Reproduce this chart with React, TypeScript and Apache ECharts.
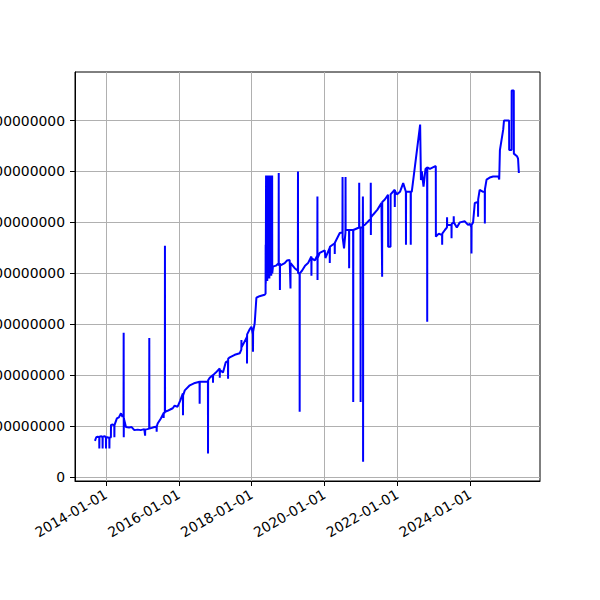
import React, { useEffect, useRef } from "react";
import * as echarts from "echarts";

const dates: string[] = [
  "2013-09-12", "2013-09-25", "2013-10-10", "2013-10-25", "2013-10-26", "2013-10-27", "2013-11-15", "2013-11-27", "2013-11-28", "2013-11-29",
  "2013-12-20", "2013-12-31", "2014-01-01", "2014-01-02", "2014-01-20", "2014-02-03", "2014-02-04", "2014-02-05", "2014-02-19", "2014-02-20",
  "2014-03-10", "2014-03-25", "2014-03-26", "2014-03-27", "2014-04-20", "2014-05-10", "2014-05-31", "2014-06-15", "2014-06-26", "2014-06-27",
  "2014-06-28", "2014-06-29", "2014-07-20", "2014-08-20", "2014-09-15", "2014-10-12", "2014-11-15", "2014-12-15", "2015-01-20", "2015-01-28",
  "2015-01-29", "2015-02-20", "2015-03-10", "2015-03-11", "2015-03-12", "2015-04-15", "2015-05-23", "2015-05-24", "2015-05-25", "2015-06-03",
  "2015-07-05", "2015-08-01", "2015-08-02", "2015-08-03", "2015-08-14", "2015-08-15", "2015-08-16", "2015-09-10", "2015-10-01", "2015-11-01",
  "2015-11-20", "2015-12-20", "2016-01-15", "2016-02-11", "2016-02-12", "2016-02-13", "2016-03-01", "2016-04-20", "2016-06-01", "2016-07-27",
  "2016-07-28", "2016-07-29", "2016-09-17", "2016-10-19", "2016-10-20", "2016-10-21", "2016-11-06", "2016-12-08", "2016-12-09", "2016-12-10",
  "2017-01-06", "2017-02-14", "2017-02-15", "2017-02-16", "2017-03-19", "2017-04-15", "2017-05-08", "2017-05-09", "2017-05-10", "2017-05-26",
  "2017-07-15", "2017-09-03", "2017-09-19", "2017-09-20", "2017-09-21", "2017-10-06", "2017-11-14", "2017-11-15", "2017-11-16", "2017-12-12",
  "2017-12-29", "2018-01-13", "2018-01-14", "2018-01-15", "2018-01-31", "2018-02-17", "2018-03-20", "2018-05-10", "2018-05-20", "2018-05-21",
  "2018-05-22", "2018-05-25", "2018-05-26", "2018-06-05", "2018-06-06", "2018-06-15", "2018-06-16", "2018-06-26", "2018-06-27", "2018-07-05",
  "2018-07-06", "2018-07-15", "2018-07-16", "2018-07-25", "2018-07-26", "2018-08-02", "2018-09-01", "2018-09-28", "2018-09-29", "2018-09-30",
  "2018-10-10", "2018-10-11", "2018-10-12", "2018-11-28", "2018-12-20", "2019-01-16", "2019-01-17", "2019-01-25", "2019-01-26", "2019-03-08",
  "2019-04-09", "2019-04-10", "2019-04-11", "2019-04-26", "2019-04-27", "2019-04-28", "2019-05-20", "2019-06-20", "2019-07-20", "2019-08-22",
  "2019-08-23", "2019-08-24", "2019-09-25", "2019-10-21", "2019-10-22", "2019-10-23", "2019-10-24", "2019-11-14", "2020-01-03", "2020-01-10",
  "2020-02-22", "2020-02-23", "2020-02-24", "2020-04-12", "2020-04-13", "2020-04-14", "2020-06-02", "2020-06-29", "2020-06-30", "2020-07-01",
  "2020-07-15", "2020-07-29", "2020-07-30", "2020-07-31", "2020-09-03", "2020-09-04", "2020-09-05", "2020-10-14", "2020-10-15", "2020-10-16",
  "2020-12-13", "2020-12-14", "2020-12-15", "2020-12-27", "2020-12-28", "2020-12-29", "2021-01-19", "2021-01-20", "2021-01-21", "2021-01-22",
  "2021-01-23", "2021-02-08", "2021-03-30", "2021-04-08", "2021-04-09", "2021-04-10", "2021-04-11", "2021-05-02", "2021-06-15", "2021-07-25",
  "2021-08-01", "2021-08-02", "2021-08-28", "2021-09-29", "2021-09-30", "2021-10-24", "2021-10-25", "2021-12-05", "2021-12-06", "2021-12-07",
  "2021-12-27", "2022-01-27", "2022-02-28", "2022-03-27", "2022-03-28", "2022-03-29", "2022-04-20", "2022-05-14", "2022-05-15", "2022-05-16",
  "2022-05-25", "2022-08-17", "2022-08-25", "2022-09-03", "2022-09-20", "2022-10-10", "2022-10-26", "2022-10-27", "2022-10-28", "2022-11-23",
  "2023-01-12", "2023-01-21", "2023-01-22", "2023-02-20", "2023-03-25", "2023-03-26", "2023-03-27", "2023-04-22", "2023-05-13", "2023-05-14",
  "2023-05-15", "2023-06-27", "2023-06-28", "2023-06-29", "2023-07-19", "2023-07-20", "2023-07-21", "2023-08-20", "2023-09-19", "2023-11-08",
  "2023-12-10", "2023-12-29", "2024-01-13", "2024-01-14", "2024-01-15", "2024-01-30", "2024-02-16", "2024-03-19", "2024-03-20", "2024-03-21",
  "2024-04-05", "2024-05-10", "2024-05-26", "2024-05-27", "2024-05-28", "2024-06-13", "2024-07-15", "2024-08-18", "2024-10-10", "2024-10-18",
  "2024-10-25", "2024-11-27", "2024-12-05", "2024-12-24", "2025-01-25", "2025-01-26", "2025-02-19", "2025-02-20", "2025-03-13", "2025-03-14",
  "2025-04-14", "2025-04-25", "2025-05-03",
];

const values: number[] = [
  71e6, 78e6, 79e6, 78e6, 56e6, 79e6, 80e6, 78e6, 56e6, 79e6,
  80e6, 78e6, 56e6, 77e6, 78e6, 76e6, 56e6, 77e6, 78e6, 102e6,
  103e6, 101e6, 78e6, 102e6, 115e6, 117e6, 125e6, 118e6, 122e6, 283e6,
  78e6, 115e6, 98e6, 97e6, 98e6, 92e6, 93e6, 92e6, 94e6, 81e6,
  93e6, 94e6, 95e6, 273e6, 95e6, 97e6, 99e6, 89e6, 99e6, 105e6,
  115e6, 125e6, 116e6, 126e6, 126e6, 454e6, 128e6, 130e6, 132e6, 135e6,
  140e6, 138e6, 150e6, 164e6, 121e6, 160e6, 170e6, 180e6, 184e6, 187e6,
  144e6, 187e6, 187e6, 187e6, 46e6, 190e6, 195e6, 200e6, 185e6, 200e6,
  205e6, 213e6, 195e6, 210e6, 205e6, 225e6, 228e6, 193e6, 232e6, 235e6,
  240e6, 243e6, 250e6, 269e6, 255e6, 260e6, 275e6, 223e6, 280e6, 290e6,
  295e6, 280e6, 246e6, 285e6, 302e6, 352e6, 355e6, 358e6, 360e6, 456e6,
  380e6, 592e6, 385e6, 592e6, 385e6, 592e6, 390e6, 592e6, 390e6, 592e6,
  395e6, 592e6, 395e6, 592e6, 400e6, 413e6, 415e6, 420e6, 597e6, 415e6,
  420e6, 367e6, 415e6, 420e6, 425e6, 426e6, 424e6, 370e6, 420e6, 410e6,
  405e6, 600e6, 400e6, 400e6, 128e6, 400e6, 405e6, 415e6, 420e6, 433e6,
  395e6, 430e6, 425e6, 435e6, 551e6, 387e6, 430e6, 440e6, 445e6, 430e6,
  450e6, 420e6, 452e6, 459e6, 438e6, 460e6, 479e6, 480e6, 589e6, 470e6,
  449e6, 480e6, 589e6, 485e6, 485e6, 410e6, 485e6, 485e6, 147e6, 485e6,
  490e6, 578e6, 490e6, 490e6, 147e6, 490e6, 490e6, 551e6, 490e6, 30e6,
  495e6, 495e6, 505e6, 505e6, 578e6, 475e6, 510e6, 515e6, 525e6, 538e6,
  393e6, 540e6, 545e6, 554e6, 452e6, 452e6, 555e6, 564e6, 530e6, 562e6,
  555e6, 560e6, 577e6, 560e6, 456e6, 560e6, 560e6, 560e6, 456e6, 560e6,
  560e6, 692e6, 583e6, 600e6, 570e6, 605e6, 608e6, 305e6, 608e6, 605e6,
  610e6, 610e6, 472e6, 478e6, 475e6, 456e6, 478e6, 485e6, 490e6, 510e6,
  495e6, 495e6, 469e6, 497e6, 500e6, 512e6, 500e6, 490e6, 500e6, 502e6,
  495e6, 497e6, 490e6, 439e6, 495e6, 500e6, 538e6, 540e6, 511e6, 545e6,
  564e6, 560e6, 560e6, 498e6, 565e6, 584e6, 588e6, 590e6, 590e6, 584e6,
  642e6, 682e6, 700e6, 700e6, 700e6, 642e6, 642e6, 759e6, 759e6, 635e6,
  630e6, 625e6, 597e6,
];

const xTickDates: string[] = ["2014-01-01", "2016-01-01", "2018-01-01", "2020-01-01", "2022-01-01", "2024-01-01"];
const yTickValues: number[] = [0, 100000000, 200000000, 300000000, 400000000, 500000000, 600000000, 700000000];
const xMinDate = "2013-02-24";
const xMaxDate = "2025-12-01";
const yMin = -7900000;
const yMax = 795300000;

export default function App() {
  const ref = useRef<HTMLDivElement>(null);
  useEffect(() => {
    if (!ref.current) return;
    const chart = echarts.init(ref.current, null, { renderer: "svg" });
    const xTicks = xTickDates.map((d) => Date.parse(d));
    const fmtDate = (v: number) => new Date(v).toISOString().slice(0, 10);
    const font = { color: "#000", fontSize: 13.9, fontFamily: "DejaVu Sans" };
    chart.setOption({
      animation: false,
      grid: {
        left: 75, top: 72, right: 60, bottom: 119,
        containLabel: false,
        outerBoundsMode: "none",
        show: true, borderColor: "#000", borderWidth: 1, backgroundColor: "transparent",
      },
      xAxis: {
        type: "value",
        min: Date.parse(xMinDate),
        max: Date.parse(xMaxDate),
        axisLine: { show: true, onZero: false, lineStyle: { color: "#000", width: 1 } },
        axisTick: { show: true, customValues: xTicks, length: 5, inside: false, lineStyle: { color: "#000", width: 1 } },
        axisLabel: { show: true, customValues: xTicks, formatter: fmtDate, rotate: 30, margin: 12, ...font },
        splitLine: { show: true, customValues: xTicks, lineStyle: { color: "#b0b0b0", width: 1 } },
      },
      yAxis: {
        type: "value",
        min: yMin,
        max: yMax,
        axisLine: { show: true, onZero: false, lineStyle: { color: "#000", width: 1 } },
        axisTick: { show: true, customValues: yTickValues, length: 5, inside: false, lineStyle: { color: "#000", width: 1 } },
        axisLabel: { show: true, customValues: yTickValues, formatter: (v: number) => String(Math.round(v)), margin: 10, ...font },
        splitLine: { show: true, customValues: yTickValues, lineStyle: { color: "#b0b0b0", width: 1 } },
      },
      series: [
        {
          type: "line",
          data: dates.map((d, i) => [Date.parse(d), values[i]]),
          showSymbol: false,
          symbol: "none",
          lineStyle: { color: "#0000ff", width: 2 },
          itemStyle: { color: "#0000ff" },
        },
      ],
    });
    return () => chart.dispose();
  }, []);
  return (
    <div
      ref={ref}
      style={{ position: "fixed", left: 0, top: 0, width: 600, height: 600, background: "#fff" }}
    />
  );
}
